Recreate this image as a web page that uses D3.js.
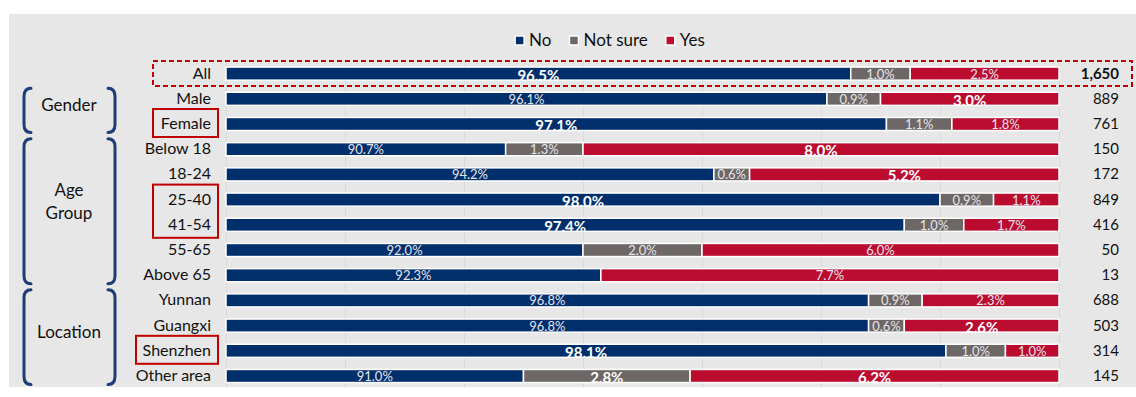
<!DOCTYPE html>
<html>
<head>
<meta charset="utf-8">
<script src="https://cdn.jsdelivr.net/npm/d3@7"></script>
<style>
  body { margin: 0; background: #fff; }
  text { font-family: Lato, "Noto Sans", sans-serif; }
</style>
</head>
<body>
<script>
// Chart size
var width = 1136;
var height = 397;

// Data
var categories = ["All", "Male", "Female", "Below 18", "18-24", "25-40", "41-54",
                  "55-65", "Above 65", "Yunnan", "Guangxi", "Shenzhen", "Other area"];
var noValues      = [96.5, 96.1, 97.1, 90.7, 94.2, 98.0, 97.4, 92.0, 92.3, 96.8, 96.8, 98.1, 91.0];
var notSureValues = [1.0, 0.9, 1.1, 1.3, 0.6, 0.9, 1.0, 2.0, 0, 0.9, 0.6, 1.0, 2.8];
var yesValues     = [2.5, 3.0, 1.8, 8.0, 5.2, 1.1, 1.7, 6.0, 7.7, 2.3, 2.6, 1.0, 6.2];
var counts = ["1,650", "889", "761", "150", "172", "849", "416", "50", "13", "688", "503", "314", "145"];
var seriesNames = ["No", "Not sure", "Yes"];
var colors = ["#012f6b", "#6d6766", "#bb0c30"];

// labels that are drawn bold: [series, category]
var boldLabels = [["No", "All"], ["Yes", "Male"], ["No", "Female"], ["Yes", "Below 18"],
                  ["Yes", "18-24"], ["No", "25-40"], ["No", "41-54"], ["Yes", "Guangxi"],
                  ["No", "Shenzhen"], ["Not sure", "Other area"], ["Yes", "Other area"]];

var groups = [
  { lines: ["Gender"], first: "Male", last: "Female" },
  { lines: ["Age", "Group"], first: "Below 18", last: "Above 65" },
  { lines: ["Location"], first: "Yunnan", last: "Other area" }
];

var rows = categories.map(function(c, i) {
  return { cat: c, "No": noValues[i], "Not sure": notSureValues[i], "Yes": yesValues[i], n: counts[i] };
});

var svg = d3.select("body").append("svg")
  .attr("width", width)
  .attr("height", height);

// grey panel
svg.append("rect")
  .attr("x", 9).attr("y", 14)
  .attr("width", 1127).attr("height", 373)
  .attr("fill", "#e7e7e7");

// scales - the axis starts at 86%
var x = d3.scaleLinear().domain([86, 100]).range([226, 1059]).clamp(true);
var y = d3.scaleBand().domain(categories).range([61, 388.6])
  .paddingInner(0.48).paddingOuter(0.24);
var color = d3.scaleOrdinal().domain(seriesNames).range(colors);

// vertical gridlines
svg.append("g").selectAll("line")
  .data(d3.range(86, 101, 2))
  .enter().append("line")
  .attr("x1", function(d) { return x(d) + 0.5; })
  .attr("x2", function(d) { return x(d) + 0.5; })
  .attr("y1", 61).attr("y2", 388)
  .attr("stroke", "#dadada")
  .attr("stroke-width", 1);

// stacked bars
var stacked = d3.stack().keys(seriesNames)(rows);

var layer = svg.append("g").selectAll("g")
  .data(stacked)
  .enter().append("g")
  .attr("fill", function(d) { return color(d.key); });

layer.selectAll("rect")
  .data(function(d) { return d.filter(function(s) { return s[1] - s[0] > 0; }); })
  .enter().append("rect")
  .attr("x", function(d) { return x(d[0]); })
  .attr("y", function(d) { return y(d.data.cat); })
  .attr("width", function(d) { return x(d[1]) - x(d[0]); })
  .attr("height", y.bandwidth())
  .attr("stroke", "#fff")
  .attr("stroke-width", 1.5);

function isBold(key, cat) {
  return boldLabels.some(function(b) { return b[0] === key && b[1] === cat; });
}

// value labels
layer.each(function(s) {
  var key = s.key;
  d3.select(this).selectAll("text")
    .data(s.filter(function(d) { return d[1] - d[0] > 0; }))
    .enter().append("text")
    .attr("x", function(d) { return (x(d[0]) + x(d[1])) / 2; })
    .attr("y", function(d) {
      var c = y(d.data.cat) + y.bandwidth() / 2;
      return isBold(key, d.data.cat) ? c + 7 : c + 5;
    })
    .attr("text-anchor", "middle")
    .attr("fill", function(d) { return isBold(key, d.data.cat) ? "#fff" : "#e4e4ec"; })
    .attr("font-size", function(d) { return isBold(key, d.data.cat) ? "15px" : "13px"; })
    .attr("font-weight", function(d) { return isBold(key, d.data.cat) ? "bold" : "normal"; })
    .text(function(d) { return d3.format(".1f")(d.data[key]) + "%"; });
});

// category labels
svg.append("g").selectAll("text")
  .data(categories)
  .enter().append("text")
  .attr("x", 211)
  .attr("y", function(d) { return y(d) + y.bandwidth() / 2 + 5; })
  .attr("text-anchor", "end")
  .attr("font-size", "16px")
  .attr("fill", "#111")
  .text(function(d) { return d; });

// sample counts on the right
svg.append("g").selectAll("text")
  .data(rows)
  .enter().append("text")
  .attr("x", 1119)
  .attr("y", function(d) { return y(d.cat) + y.bandwidth() / 2 + 5; })
  .attr("text-anchor", "end")
  .attr("font-size", "15px")
  .attr("font-weight", function(d, i) { return i === 0 ? "bold" : "normal"; })
  .attr("fill", "#111")
  .text(function(d) { return d.n; });

// group brackets and names
groups.forEach(function(g) {
  var top = y(g.first) - 4;
  var bottom = y(g.last) + y.bandwidth() + 2;
  var mid = (top + bottom) / 2;
  var lx = 24, rx = 115, r = 8;
  svg.append("path")
    .attr("d", "M" + (lx + 7) + "," + top + " Q" + lx + "," + top + " " + lx + "," + (top + r) +
               " L" + lx + "," + (bottom - r) + " Q" + lx + "," + bottom + " " + (lx + 7) + "," + bottom)
    .attr("fill", "none").attr("stroke", "#1d3c78").attr("stroke-width", 3).attr("stroke-linecap", "round");
  svg.append("path")
    .attr("d", "M" + (rx - 7) + "," + top + " Q" + rx + "," + top + " " + rx + "," + (top + r) +
               " L" + rx + "," + (bottom - r) + " Q" + rx + "," + bottom + " " + (rx - 7) + "," + bottom)
    .attr("fill", "none").attr("stroke", "#1d3c78").attr("stroke-width", 3).attr("stroke-linecap", "round");
  var lh = 23;
  var n = g.lines.length;
  g.lines.forEach(function(t, i) {
    svg.append("text")
      .attr("x", 69)
      .attr("y", mid + 1 + (i - (n - 1) / 2) * lh - (n - 1) * 5)
      .attr("text-anchor", "middle")
      .attr("font-size", "17px")
      .attr("fill", "#111")
      .text(t);
  });
});

// red highlight boxes
function redBox(x0, x1, firstCat, lastCat) {
  var top = y(firstCat) + y.bandwidth() / 2 - 15;
  var bottom = y(lastCat) + y.bandwidth() / 2 + 13;
  svg.append("rect")
    .attr("x", x0).attr("y", top)
    .attr("width", x1 - x0).attr("height", bottom - top)
    .attr("fill", "none")
    .attr("stroke", "#c00000")
    .attr("stroke-width", 2);
}
// dashed box around the All row
svg.append("rect")
  .attr("x", 153).attr("y", y("All") + y.bandwidth() / 2 - 12.5)
  .attr("width", 979).attr("height", 25)
  .attr("fill", "none")
  .attr("stroke", "#c00000")
  .attr("stroke-width", 2)
  .attr("stroke-dasharray", "5,3");
redBox(153, 218, "Female", "Female");
redBox(153, 218, "25-40", "41-54");
redBox(136, 218, "Shenzhen", "Shenzhen");

// legend
var legend = svg.append("g");
var lx = 0;
seriesNames.forEach(function(k) {
  var item = legend.append("g").attr("transform", "translate(" + lx + ",0)");
  item.append("rect")
    .attr("x", 0).attr("y", 36).attr("width", 9).attr("height", 9)
    .attr("fill", color(k)).attr("stroke", "#fff").attr("stroke-width", 1.5);
  var t = item.append("text")
    .attr("x", 14).attr("y", 46)
    .attr("font-size", "17px")
    .attr("fill", "#111")
    .text(k);
  lx += 14 + t.node().getComputedTextLength() + 18;
});
var legendWidth = lx - 18;
legend.attr("transform", "translate(" + (610 - legendWidth / 2) + ",0)");
</script>
</body>
</html>
